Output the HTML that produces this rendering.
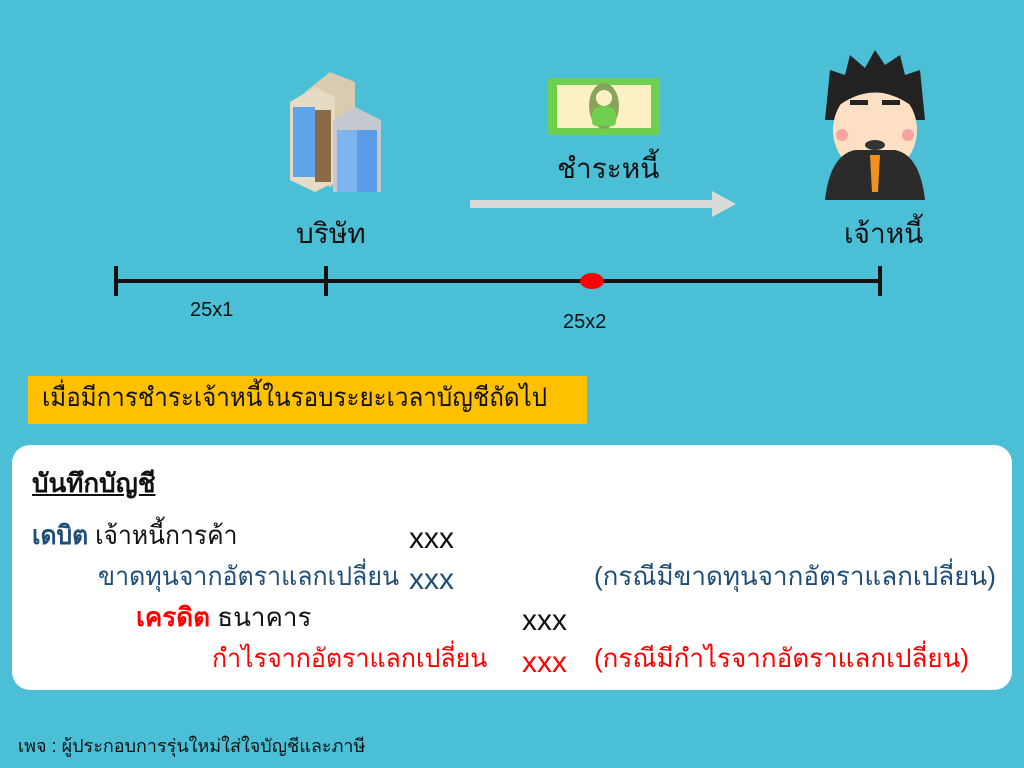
<!DOCTYPE html>
<html><head><meta charset="utf-8"><style>
body{margin:0;width:1024px;height:768px;background:#4BBFD6;position:relative;overflow:hidden;font-family:"Liberation Sans","DejaVu Sans",sans-serif;}
.t{position:absolute;white-space:nowrap;line-height:1;transform-origin:left top;}
.n{color:#1F4E79}.r{color:#FF0000}.k{color:#111}
.x{font-size:30px}
</style></head><body>
<!-- buildings -->
<svg style="position:absolute;left:285px;top:62px" width="100" height="130">
<polygon points="20,30 45,10 70,20 70,110 45,125 20,110" fill="#d9cbb0"/>
<polygon points="5,40 30,25 50,35 50,120 30,130 5,118" fill="#e6dcc6"/>
<rect x="8" y="45" width="22" height="70" fill="#5fa3e8"/>
<rect x="30" y="48" width="16" height="72" fill="#8b6b45"/>
<polygon points="48,58 70,45 96,58 96,140 70,150 48,138" fill="#c4c8d0"/>
<rect x="52" y="68" width="20" height="70" fill="#7fb5ee"/>
<rect x="72" y="68" width="20" height="72" fill="#5a9de6"/>
</svg>
<!-- money -->
<div style="position:absolute;left:548px;top:78px;width:112px;height:57px;background:#6FCF4F;border-radius:3px"></div>
<div style="position:absolute;left:557px;top:85px;width:94px;height:43px;background:#FDF0C4"></div>
<div style="position:absolute;left:589px;top:83px;width:30px;height:46px;background:#8AA35A;border-radius:50%"></div>
<div style="position:absolute;left:596px;top:90px;width:16px;height:16px;background:#FDF0C4;border-radius:50%"></div>
<div style="position:absolute;left:592px;top:106px;width:24px;height:20px;background:#6FCF4F;border-radius:10px 10px 4px 4px"></div>
<!-- man -->
<svg style="position:absolute;left:820px;top:50px" width="110" height="152">
<polygon points="5,70 10,20 25,25 30,5 45,18 55,0 65,15 80,5 85,25 100,20 105,70" fill="#222"/>
<ellipse cx="55" cy="80" rx="42" ry="45" fill="#fde0c4"/>
<path d="M13 60 Q55 25 97 60 L97 45 Q55 15 13 45Z" fill="#222"/>
<rect x="30" y="50" width="18" height="5" fill="#222"/><rect x="62" y="50" width="18" height="5" fill="#222"/>
<circle cx="22" cy="85" r="6" fill="#f5a3a3"/><circle cx="88" cy="85" r="6" fill="#f5a3a3"/>
<ellipse cx="55" cy="95" rx="10" ry="5" fill="#333"/>
<path d="M5 150 Q10 105 35 100 L75 100 Q100 105 105 150Z" fill="#2b2b2b"/>
<polygon points="50,105 60,105 58,142 52,142" fill="#F0901E"/>
</svg>
<div class="t k" style="left:557px;top:155px;font-size:28px">ชำระหนี้</div>
<div class="t k" style="left:296px;top:220px;font-size:28px">บริษัท</div>
<div class="t k" style="left:844px;top:220px;font-size:28px">เจ้าหนี้</div>
<!-- arrow -->
<div style="position:absolute;left:470px;top:200px;width:243px;height:8px;background:#DADADA"></div>
<div style="position:absolute;left:712px;top:191px;width:0;height:0;border-left:24px solid #DADADA;border-top:13px solid transparent;border-bottom:13px solid transparent"></div>
<!-- timeline -->
<div style="position:absolute;left:115px;top:279px;width:766px;height:4px;background:#111"></div>
<div style="position:absolute;left:114px;top:266px;width:4px;height:30px;background:#111"></div>
<div style="position:absolute;left:324px;top:266px;width:4px;height:30px;background:#111"></div>
<div style="position:absolute;left:878px;top:266px;width:4px;height:30px;background:#111"></div>
<div style="position:absolute;left:580px;top:273px;width:24px;height:16px;background:#FF0000;border-radius:50%"></div>
<div class="t k" style="left:190px;top:300px;font-size:20px">25x1</div>
<div class="t k" style="left:563px;top:312px;font-size:20px">25x2</div>
<!-- banner -->
<div style="position:absolute;left:28px;top:376px;width:559px;height:48px;background:#FFC000"></div>
<div class="t k" style="left:42px;top:384px;font-size:26px;transform:scaleX(0.93)">เมื่อมีการชำระเจ้าหนี้ในรอบระยะเวลาบัญชีถัดไป</div>
<!-- white box -->
<div style="position:absolute;left:12px;top:445px;width:1000px;height:245px;background:#fff;border-radius:18px"></div>
<div class="t k" style="left:32px;top:470px;font-size:26px;font-weight:bold;text-decoration:underline">บันทึกบัญชี</div>
<div class="t" style="left:32px;top:522px;font-size:26px;transform:scaleX(0.95)"><b class="n">เดบิต</b> <span class="k">เจ้าหนี้การค้า</span></div>
<div class="t k x" style="left:409px;top:524px">xxx</div>
<div class="t n" style="left:98px;top:563px;font-size:26px;transform:scaleX(0.96)">ขาดทุนจากอัตราแลกเปลี่ยน</div>
<div class="t n x" style="left:409px;top:565px">xxx</div>
<div class="t n" style="left:594px;top:563px;font-size:26px">(กรณีมีขาดทุนจากอัตราแลกเปลี่ยน)</div>
<div class="t" style="left:136px;top:604px;font-size:26px"><b class="r">เครดิต</b> <span class="k">ธนาคาร</span></div>
<div class="t k x" style="left:522px;top:606px">xxx</div>
<div class="t r" style="left:212px;top:645px;font-size:26px;transform:scaleX(0.96)">กำไรจากอัตราแลกเปลี่ยน</div>
<div class="t r x" style="left:522px;top:648px">xxx</div>
<div class="t r" style="left:594px;top:645px;font-size:26px">(กรณีมีกำไรจากอัตราแลกเปลี่ยน)</div>
<div class="t k" style="left:18px;top:737px;font-size:18px">เพจ : ผู้ประกอบการรุ่นใหม่ใส่ใจบัญชีและภาษี</div>
</body></html>
